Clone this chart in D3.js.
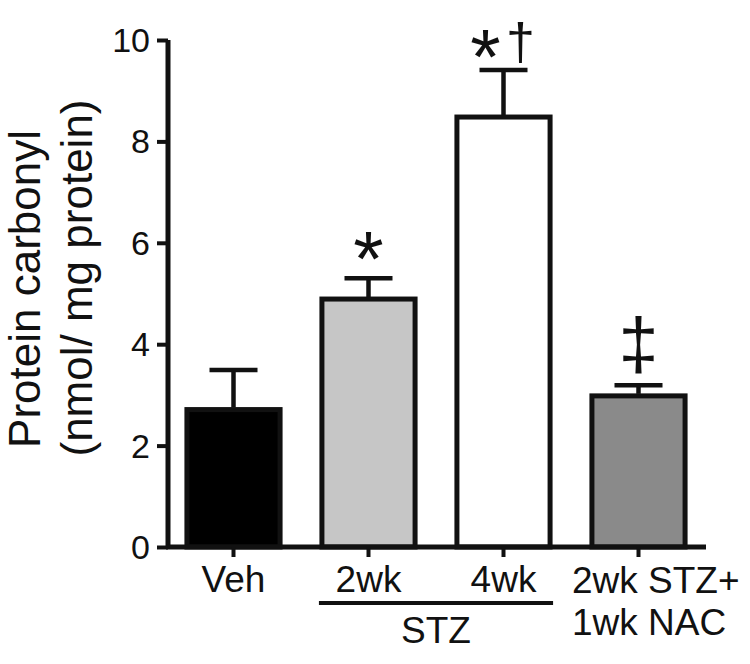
<!DOCTYPE html>
<html><head><meta charset="utf-8">
<script src="https://cdn.jsdelivr.net/npm/d3@7"></script>
<style>body{margin:0;background:#fff}svg{display:block}text{font-family:"Liberation Sans",Arial,sans-serif;fill:#111}</style>
</head><body>
<svg id="c" width="750" height="664"></svg>
<script>
const categories = ["Veh", "2wk", "4wk", "2wk STZ+ 1wk NAC"];
const values = [2.75, 4.93, 8.52, 3.02];
const errors = [0.74, 0.37, 0.89, 0.17];
const fills = ["#000000", "#c6c6c6", "#ffffff", "#8a8a8a"];
const yTicks = [0, 2, 4, 6, 8, 10];
const xLabels = [["Veh"], ["2wk"], ["4wk"], ["2wk STZ+", "1wk NAC"]];
const marks = ["", "*", "*", "‡"];
const marks2 = ["", "", "†", ""];
const groupLabel = "STZ";
const yTitle = ["Protein carbonyl", "(nmol/ mg protein)"];

const svg = d3.select("#c");
const x = d3.scaleBand().domain(categories).range([166, 706]).paddingInner(0.31).paddingOuter(0.155);
const y = d3.scaleLinear().domain([0, 10]).range([547, 40]);
const ink = "#111";
const font = '"Liberation Sans",Arial,sans-serif';

// bars
svg.append("g").selectAll("rect").data(categories).join("rect")
  .attr("x", d => x(d))
  .attr("y", (d, i) => y(values[i]) + 2)
  .attr("width", x.bandwidth())
  .attr("height", (d, i) => y(0) - y(values[i]) - 2)
  .attr("fill", (d, i) => fills[i])
  .attr("stroke", ink).attr("stroke-width", 5);

// error bars
const eg = svg.append("g").attr("stroke", ink).attr("stroke-width", 4.5);
categories.forEach((d, i) => {
  const cx = x(d) + x.bandwidth() / 2;
  eg.append("line").attr("x1", cx).attr("x2", cx).attr("y1", y(values[i])).attr("y2", y(values[i] + errors[i]));
  eg.append("line").attr("x1", cx - 24).attr("x2", cx + 24).attr("y1", y(values[i] + errors[i])).attr("y2", y(values[i] + errors[i]));
});

// y axis
const ya = svg.append("g").attr("transform", "translate(168,0)")
  .call(d3.axisLeft(y).tickValues(yTicks).tickSize(11).tickPadding(7).tickFormat(d3.format("d")));
ya.select(".domain").attr("stroke", ink).attr("stroke-width", 5).attr("d", `M0,${y(10)}V${y(0)}`);
ya.selectAll(".tick line").attr("stroke", ink).attr("stroke-width", 4);
ya.selectAll(".tick text").attr("font-size", 34).attr("fill", ink).attr("dy", "0.34em").style("font-family", font);

// x axis
const xa = svg.append("g").attr("transform", `translate(0,${y(0)})`)
  .call(d3.axisBottom(x).tickSize(10).tickFormat(""));
xa.select(".domain").attr("stroke", ink).attr("stroke-width", 5).attr("d", `M166,0H706`);
xa.selectAll(".tick line").attr("stroke", ink).attr("stroke-width", 4);

// x labels
categories.forEach((d, i) => {
  const cx = x(d) + x.bandwidth() / 2;
  const lines = xLabels[i];
  if (lines.length === 1) {
    svg.append("text").attr("x", cx).attr("y", 592).attr("text-anchor", "middle").attr("font-size", 37).text(lines[0]);
  } else {
    lines.forEach((l, j) => {
      svg.append("text").attr("x", 572).attr("y", 593 + j * 42).attr("text-anchor", "start").attr("font-size", 37).text(l);
    });
  }
});
// STZ group
const gx1 = x(categories[1]) - 3, gx2 = x(categories[2]) + x.bandwidth() + 3;
svg.append("line").attr("x1", gx1).attr("x2", gx2).attr("y1", 603).attr("y2", 603).attr("stroke", ink).attr("stroke-width", 4);
svg.append("text").attr("x", (gx1 + gx2) / 2).attr("y", 643).attr("text-anchor", "middle").attr("font-size", 37).text(groupLabel);

// significance marks
categories.forEach((d, i) => {
  const cx = x(d) + x.bandwidth() / 2;
  const top = y(values[i] + errors[i]);
  if (i === 1) svg.append("text").attr("x", cx).attr("y", top + 8).attr("text-anchor", "middle").attr("font-size", 78).text(marks[i]);
  if (i === 2) {
    svg.append("text").attr("x", cx - 18).attr("y", top + 14).attr("text-anchor", "middle").attr("font-size", 78).text(marks[i]);
    svg.append("text").attr("x", cx + 17).attr("y", top - 10).attr("text-anchor", "middle").attr("font-size", 52).text(marks2[i]);
  }
  if (i === 3) svg.append("text").attr("x", cx).attr("y", top - 17).attr("text-anchor", "middle").attr("font-size", 72).text(marks[i]);
});

// y title
const tg = svg.append("g").attr("transform", "rotate(-90)");
tg.append("text").attr("x", -289).attr("y", 40).attr("text-anchor", "middle").attr("font-size", 44).text(yTitle[0]);
tg.append("text").attr("x", -278).attr("y", 92).attr("text-anchor", "middle").attr("font-size", 44).text(yTitle[1]);
</script>
</body></html>
